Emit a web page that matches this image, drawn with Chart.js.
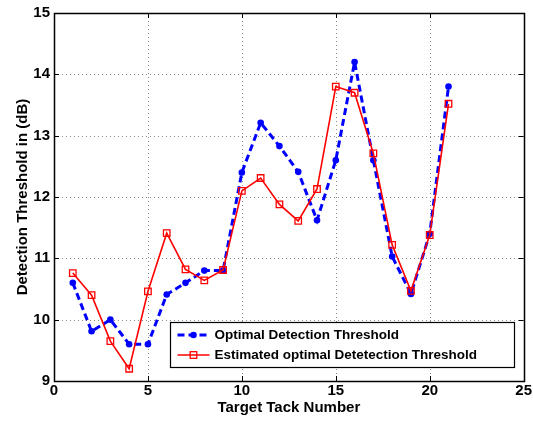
<!DOCTYPE html>
<html>
<head>
<meta charset="utf-8">
<script src="https://cdn.jsdelivr.net/npm/chart.js@4/dist/chart.umd.min.js"></script>
<style>
html,body{margin:0;padding:0;background:#fff;}
canvas{display:block;}
</style>
</head>
<body>
<canvas id="c" width="533" height="421"></canvas>
<script>
// ---- data ----
const trackNumbers = [1,2,3,4,5,6,7,8,9,10,11,12,13,14,15,16,17,18,19,20,21];
const optimalThreshold = [10.6,9.81,10.0,9.6,9.6,10.41,10.6,10.8,10.8,12.4,13.21,12.83,12.41,11.62,12.6,14.2,12.6,11.03,10.42,11.4,13.8];
const estimatedThreshold = [10.76,10.4,9.65,9.2,10.46,11.41,10.82,10.64,10.81,12.1,12.31,11.88,11.61,12.13,13.8,13.7,12.71,11.22,10.47,11.38,13.52];
const seriesLabels = ['Optimal Detection Threshold','Estimated optimal Detetection Threshold'];
const xTicks = [0,5,10,15,20,25];
const yTicks = [9,10,11,12,13,14,15];
const xTitle = 'Target Tack Number';
const yTitle = 'Detection Threshold in (dB)';

const FONT = '"Liberation Sans", Arial, Helvetica, sans-serif';
const toPts = (ys) => ys.map((y, i) => ({x: trackNumbers[i], y}));

const framePlugin = {
  id: 'frame',
  beforeDatasetsDraw(chart) {
    const {ctx, chartArea: a, scales} = chart;
    ctx.save();
    ctx.strokeStyle = '#8a8a8a';
    ctx.lineWidth = 1;
    ctx.setLineDash([1, 3]);
    xTicks.forEach(v => {
      const px = Math.round(scales.x.getPixelForValue(v)) + 0.5;
      if (px <= a.left + 1 || px >= a.right - 1) return;
      ctx.beginPath(); ctx.moveTo(px, a.top); ctx.lineTo(px, a.bottom); ctx.stroke();
    });
    yTicks.forEach(v => {
      const py = Math.round(scales.y.getPixelForValue(v)) + 0.5;
      if (py <= a.top + 1 || py >= a.bottom - 1) return;
      ctx.beginPath(); ctx.moveTo(a.left, py); ctx.lineTo(a.right, py); ctx.stroke();
    });
    ctx.restore();
  },
  afterDatasetsDraw(chart) {
    const {ctx, chartArea: a, scales} = chart;
    ctx.save();
    ctx.setLineDash([]);
    ctx.strokeStyle = '#000';
    ctx.lineWidth = 1;
    const tl = 5;
    xTicks.forEach(v => {
      const px = Math.round(scales.x.getPixelForValue(v)) + 0.5;
      ctx.beginPath(); ctx.moveTo(px, a.bottom); ctx.lineTo(px, a.bottom - tl); ctx.stroke();
      ctx.beginPath(); ctx.moveTo(px, a.top); ctx.lineTo(px, a.top + tl); ctx.stroke();
    });
    yTicks.forEach(v => {
      const py = Math.round(scales.y.getPixelForValue(v)) + 0.5;
      ctx.beginPath(); ctx.moveTo(a.left, py); ctx.lineTo(a.left + tl, py); ctx.stroke();
      ctx.beginPath(); ctx.moveTo(a.right, py); ctx.lineTo(a.right - tl, py); ctx.stroke();
    });
    ctx.lineWidth = 1.5;
    ctx.strokeRect(Math.round(a.left) + 0.5, Math.round(a.top) + 0.5, Math.round(a.right - a.left), Math.round(a.bottom - a.top));

    // legend
    const lw = 344, lh = 45;
    const lx = Math.round(a.right - 10 - lw) + 0.5, ly = Math.round(a.bottom - 14 - lh) + 0.5;
    ctx.fillStyle = '#fff';
    ctx.fillRect(lx, ly, lw, lh);
    ctx.lineWidth = 1.2;
    ctx.strokeStyle = '#000';
    ctx.strokeRect(lx, ly, lw, lh);
    const ds = chart.data.datasets;
    const rows = [ly + 12.5, ly + 32.5];
    ds.forEach((d, i) => {
      const y = rows[i];
      const x0 = lx + 7, x1 = lx + 39, xm = (x0 + x1) / 2;
      ctx.strokeStyle = d.borderColor;
      ctx.lineWidth = d.borderWidth;
      ctx.setLineDash(d.borderDash || []);
      ctx.beginPath(); ctx.moveTo(x0, y); ctx.lineTo(x1, y); ctx.stroke();
      ctx.setLineDash([]);
      if (d.pointStyle === 'rect') {
        ctx.lineWidth = 1.3;
        const s = 3.3;
        ctx.strokeRect(xm - s, y - s, 2 * s, 2 * s);
      } else {
        ctx.fillStyle = d.pointBackgroundColor;
        ctx.beginPath(); ctx.arc(xm, y, d.pointRadius, 0, Math.PI * 2); ctx.fill();
      }
      ctx.fillStyle = '#000';
      ctx.font = 'bold 13.5px ' + FONT;
      ctx.textBaseline = 'middle';
      ctx.textAlign = 'left';
      ctx.fillText(d.label, lx + 44, y + 0.5);
    });
    ctx.restore();
  }
};

new Chart(document.getElementById('c'), {
  type: 'line',
  data: {
    datasets: [
      {
        label: seriesLabels[0],
        data: toPts(optimalThreshold),
        borderColor: '#0000ff',
        borderWidth: 3,
        borderDash: [7, 4],
        pointStyle: 'circle',
        pointRadius: 3.3,
        pointBackgroundColor: '#0000ff',
        pointBorderColor: '#0000ff',
        pointBorderWidth: 0,
        tension: 0,
        fill: false,
        order: 1
      },
      {
        label: seriesLabels[1],
        data: toPts(estimatedThreshold),
        borderColor: '#ff0000',
        borderWidth: 1.6,
        pointStyle: 'rect',
        pointRadius: 4.6,
        pointBackgroundColor: 'rgba(255,255,255,0)',
        pointBorderColor: '#ff0000',
        pointBorderWidth: 1.3,
        tension: 0,
        fill: false,
        order: 0
      }
    ]
  },
  options: {
    responsive: false,
    animation: false,
    events: [],
    layout: {padding: {top: 9, right: 9, left: 0, bottom: 0}},
    plugins: {legend: {display: false}, tooltip: {enabled: false}},
    scales: {
      x: {
        type: 'linear',
        min: 0, max: 25,
        afterFit: s => { s.height = 40; },
        afterBuildTicks: s => { s.ticks = xTicks.map(v => ({value: v})); },
        grid: {display: false, drawTicks: false},
        border: {display: false},
        ticks: {color: '#000', padding: 1, font: {family: FONT, size: 15, weight: 'bold'}, maxRotation: 0, autoSkip: false},
        title: {display: true, text: xTitle, color: '#000', padding: {top: 0, bottom: 4}, font: {family: FONT, size: 15, weight: 'bold', lineHeight: 1.2}}
      },
      y: {
        type: 'linear',
        min: 9, max: 15,
        afterFit: s => { s.width = 54; },
        afterBuildTicks: s => { s.ticks = yTicks.map(v => ({value: v})); },
        grid: {display: false, drawTicks: false},
        border: {display: false},
        ticks: {color: '#000', padding: 4, font: {family: FONT, size: 15, weight: 'bold'}, autoSkip: false},
        title: {display: true, text: yTitle, color: '#000', padding: {top: 14, bottom: 0}, font: {family: FONT, size: 15, weight: 'bold', lineHeight: 1.2}}
      }
    }
  },
  plugins: [framePlugin]
});
</script>
</body>
</html>
